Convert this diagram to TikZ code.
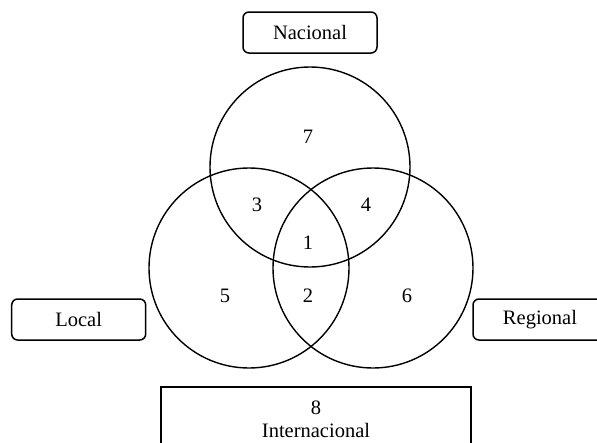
\documentclass[tikz,border=0pt]{standalone}
\usepackage{fontspec}
\setmainfont{Liberation Serif}
\begin{document}
\begin{tikzpicture}[x=1pt,y=-1pt,
  every node/.style={font=\fontsize{20.5}{22.5}\selectfont},
  ring/.style={circle,draw,line width=1.4pt,minimum size=200pt,inner sep=0pt},
  lbox/.style={draw,rounded corners=6pt,line width=1.5pt,inner sep=0pt},
  num/.style={inner sep=0pt}]
\useasboundingbox (0,0) rectangle (597,442);
\clip (0,0) rectangle (597,442);
\node[ring] (N) at (310,167) {};
\node[ring] (L) at (249,268) {};
\node[ring] (R) at (373,268) {};
\node[num] (n7) at (308,137) {7};
\node[num] (n3) at (257,205) {3};
\node[num] (n4) at (366,205) {4};
\node[num] (n1) at (308,243) {1};
\node[num] (n5) at (225,296) {5};
\node[num] (n2) at (308,296) {2};
\node[num] (n6) at (407,296) {6};
\node[lbox,minimum width=134pt,minimum height=41pt] (nac) at (310,32.5) {Nacional};
\node[lbox,minimum width=134pt,minimum height=41pt] (loc) at (78.7,319.5) {Local};
\node[lbox,minimum width=134pt,minimum height=41pt] (reg) at (540,319.5) {Regional};
\node[draw,line width=1.8pt,minimum width=310pt,minimum height=70pt,inner sep=0pt] (int) at (316,422) {};
\node[align=center,inner sep=0pt] (intt) at (316,419.5) {8\\Internacional};
\end{tikzpicture}
\end{document}
